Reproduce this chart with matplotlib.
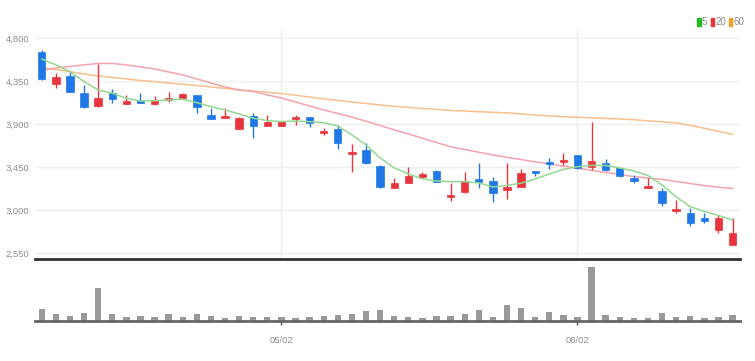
import matplotlib.pyplot as plt
from matplotlib.patches import Rectangle

# === Data (50 trading days) ===
opens = [4657, 4319, 4405, 4224, 4092, 4224, 4109, 4147, 4112, 4154,
         4178, 4207, 3997, 3969, 3851, 3987, 3882, 3882, 3952, 3980,
         3806, 3848, 3589, 3631, 3464, 3230, 3289, 3352, 3411, 3142,
         3195, 3328, 3307, 3212, 3241, 3411, 3502, 3502, 3579, 3450,
         3498, 3440, 3335, 3230, 3205, 2993, 2969, 2916, 2794, 2637]
highs = [4680, 4434, 4450, 4311, 4531, 4266, 4207, 4224, 4196, 4241,
         4231, 4207, 4067, 4067, 3980, 4021, 3997, 3938, 3997, 3980,
         3858, 3893, 3691, 3707, 3474, 3335, 3456, 3404, 3422, 3283,
         3404, 3492, 3345, 3492, 3429, 3411, 3544, 3597, 3579, 3927,
         3534, 3440, 3369, 3335, 3230, 3108, 3021, 2975, 2951, 2916]
lows = [4360, 4277, 4241, 4071, 4078, 4120, 4109, 4123, 4102, 4130,
        4162, 4021, 3955, 3969, 3851, 3753, 3882, 3882, 3893, 3875,
        3788, 3638, 3404, 3485, 3230, 3230, 3283, 3335, 3299, 3100,
        3184, 3230, 3090, 3115, 3241, 3359, 3429, 3474, 3430, 3422,
        3411, 3352, 3289, 3230, 3045, 2975, 2836, 2864, 2766, 2637]
closes = [4374, 4392, 4241, 4078, 4172, 4165, 4147, 4123, 4147, 4175,
          4217, 4084, 3955, 3987, 3963, 3882, 3927, 3938, 3973, 3917,
          3830, 3701, 3613, 3498, 3241, 3283, 3362, 3377, 3299, 3160,
          3307, 3299, 3184, 3241, 3394, 3387, 3485, 3526, 3440, 3519,
          3422, 3359, 3310, 3254, 3073, 3010, 2864, 2891, 2923, 2759]
volumes = [36, 22, 16, 23, 100, 22, 13, 16, 13, 22,
           13, 22, 16, 10, 16, 13, 11, 12, 8, 11,
           16, 18, 22, 31, 32, 16, 13, 8, 16, 16,
           22, 32, 12, 48, 40, 13, 28, 18, 13, 161,
           18, 12, 8, 8, 24, 13, 16, 8, 12, 18]
ma5 = [4583, 4521, 4450, 4346, 4259, 4224, 4172, 4144, 4147, 4154,
       4162, 4126, 4084, 4050, 4008, 3963, 3938, 3927, 3934, 3927,
       3917, 3882, 3788, 3683, 3547, 3443, 3380, 3328, 3307, 3299,
       3299, 3286, 3244, 3260, 3283, 3328, 3380, 3427, 3456, 3469,
       3469, 3443, 3411, 3364, 3265, 3140, 3038, 2988, 2946, 2899]
ma20 = [4463, 4489, 4505, 4521, 4536, 4536, 4521, 4500, 4479, 4447,
        4416, 4374, 4332, 4290, 4259, 4243, 4206, 4175, 4133, 4091,
        4050, 4013, 3974, 3932, 3887, 3841, 3799, 3754, 3709, 3664,
        3636, 3607, 3579, 3553, 3531, 3507, 3485, 3462, 3440, 3418,
        3396, 3374, 3352, 3337, 3323, 3301, 3280, 3258, 3241, 3228]
ma60 = [4494, 4473, 4450, 4426, 4405, 4390, 4374, 4358, 4345, 4332,
        4319, 4306, 4290, 4275, 4259, 4247, 4235, 4221, 4203, 4184,
        4166, 4149, 4132, 4118, 4102, 4087, 4076, 4065, 4056, 4044,
        4038, 4031, 4025, 4019, 4008, 3995, 3987, 3978, 3973, 3967,
        3961, 3955, 3947, 3936, 3926, 3914, 3888, 3858, 3825, 3795]
y_ticks = [2550, 3000, 3450, 3900, 4350, 4800]
date_ticks = [17, 38]
date_labels = ['05/02', '06/02']

UP = '#e8343c'
DOWN = '#1f78e6'
TXT = '#8f8f8f'
plt.rcParams['font.family'] = ['Liberation Sans', 'DejaVu Sans']

W, H = 755, 361
fig = plt.figure(figsize=(W / 100, H / 100), dpi=100)
ax = fig.add_axes([35 / W, (H - 259) / H, 705 / W, 229 / H])
axv = fig.add_axes([35 / W, (H - 321) / H, 705 / W, 59 / H])

n = len(closes)
x = list(range(n))

# === price panel ===
for i in x:
    col = UP if closes[i] >= opens[i] else DOWN
    ax.vlines(i, lows[i], highs[i], color=col, lw=1, zorder=3)
    body = max(abs(closes[i] - opens[i]), 14)
    ax.bar(i, body, bottom=min(opens[i], closes[i]), width=0.52,
           color=col, edgecolor=col, lw=0.5, zorder=4)

ax.plot(x, ma60, color='#f7c08c', lw=1.1, zorder=2)
ax.plot(x, ma20, color='#f5a3ad', lw=1.1, zorder=2)
ax.plot(x, ma5, color='#93d891', lw=1.1, zorder=5)

ax.set_xlim(-0.48, n - 0.47)
ax.set_ylim(2490, 4886)
ax.set_yticks(y_ticks)
ax.set_yticklabels([f'{v:,}' for v in y_ticks], color=TXT, fontsize=6.8)
ax.set_xticks(date_ticks)
ax.tick_params(axis='x', length=0, labelbottom=False)
ax.tick_params(axis='y', length=0, pad=4)
ax.grid(True, color='#efefef', lw=1, zorder=0)
for s in ['top', 'right', 'left']:
    ax.spines[s].set_visible(False)
ax.spines['bottom'].set_color('#333333')
ax.spines['bottom'].set_linewidth(2)

# === volume panel ===
axv.bar(x, volumes, width=0.45, color='#999999', zorder=2)
axv.set_xlim(-0.48, n - 0.47)
axv.set_ylim(0, 177)
axv.set_yticks([])
axv.set_xticks(date_ticks)
axv.set_xticklabels(date_labels, color=TXT, fontsize=6.8)
axv.tick_params(axis='x', length=3, width=1, color='#555555', pad=8)
for s in ['top', 'right', 'left']:
    axv.spines[s].set_visible(False)
axv.spines['bottom'].set_color('#666666')
axv.spines['bottom'].set_linewidth(2)

# === legend (top right) ===
legend_items = [('5', '#22bb22'), ('20', '#ee3333'), ('60', '#f0a030')]
lx = 697
for lab, c in legend_items:
    fig.patches.append(Rectangle((lx / W, (H - 26) / H), 3.5 / W, 8 / H,
                                 transform=fig.transFigure, color=c))
    fig.text((lx + 5) / W, (H - 22) / H, lab, color=TXT, fontsize=7,
             va='center', ha='left')
    lx += 9 + 4.5 * len(lab)

fig.savefig('out.png', dpi=100)
